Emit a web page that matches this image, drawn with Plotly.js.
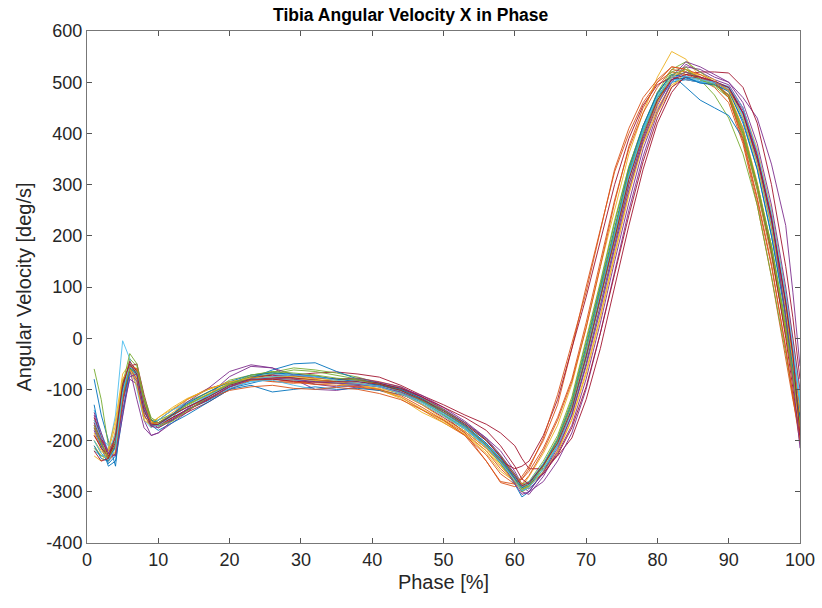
<!DOCTYPE html>
<html>
<head>
<meta charset="utf-8">
<script src="https://cdn.plot.ly/plotly-3.0.1.min.js"></script>
<style>html,body{margin:0;padding:0;background:#fff;}#chart{width:822px;height:608px;}</style>
</head>
<body>
<div id="chart"></div>
<script>
const phase = [1,2,3,4,5,6,7,8,9,10,12,14,17,20,23,26,29,32,35,38,41,44,47,50,53,56,58,60,61,62,64,66,68,70,72,74,76,78,80,82,84,86,88,90,92,94,96,98,99,100];

const trial01 = [-80,-150,-200,-250,-120,-60,-70,-140,-165,-170,-160,-140,-122,-98,-88,-78,-77,-82,-84,-90,-94,-107,-124,-150,-175,-210,-240,-275,-300,-285,-245,-200,-130,-20,95,215,325,405,465,500,505,500,495,485,420,330,200,50,-40,-130];
const trial02 = [-160,-190,-230,-210,-90,-50,-65,-130,-165,-170,-150,-120,-98,-88,-80,-84,-86,-90,-88,-96,-102,-115,-140,-165,-190,-240,-280,-285,-270,-250,-200,-130,-20,100,215,325,400,460,500,520,515,505,490,460,380,260,120,-40,-120,-190];
const trial03 = [-200,-220,-235,-180,-80,-55,-80,-150,-175,-165,-145,-125,-105,-90,-78,-75,-78,-80,-88,-92,-100,-118,-145,-165,-188,-225,-260,-280,-290,-270,-225,-170,-90,20,140,250,360,440,510,560,545,510,500,470,400,300,170,10,-80,-170];
const trial04 = [-150,-195,-220,-215,-140,-80,-90,-160,-190,-185,-165,-145,-112,-75,-55,-58,-80,-100,-102,-95,-90,-100,-115,-140,-165,-195,-220,-260,-285,-295,-265,-225,-170,-80,30,150,265,370,445,500,530,525,510,500,470,430,340,220,90,-55];
const trial05 = [-60,-120,-210,-230,-100,-40,-55,-120,-160,-170,-155,-125,-106,-82,-72,-66,-74,-73,-82,-80,-90,-96,-120,-140,-168,-200,-230,-265,-285,-280,-240,-190,-115,-5,110,230,335,415,475,520,530,505,475,430,360,260,120,-30,-110,-180];
const trial06 = [-140,-185,-220,-150,-5,-40,-100,-160,-175,-160,-140,-125,-110,-90,-75,-70,-72,-78,-80,-82,-88,-98,-118,-142,-170,-205,-235,-272,-295,-285,-250,-205,-140,-40,80,200,315,400,470,505,510,505,500,490,430,340,220,60,-30,-120];
const trial07 = [-170,-205,-235,-210,-110,-60,-60,-120,-165,-175,-160,-145,-125,-100,-82,-78,-72,-68,-66,-70,-76,-92,-112,-130,-150,-168,-185,-210,-235,-255,-255,-230,-195,-120,-20,100,220,330,420,480,515,520,520,518,490,420,300,140,40,-80];
const trial08 = [-130,-200,-245,-230,-120,-70,-65,-130,-170,-180,-165,-150,-125,-100,-92,-105,-100,-95,-100,-98,-102,-110,-125,-148,-175,-210,-245,-285,-310,-300,-260,-210,-140,-35,80,205,320,410,480,515,490,465,450,435,390,300,180,20,-70,-160];
const trial09 = [-190,-210,-225,-205,-90,-55,-75,-150,-170,-160,-140,-120,-100,-85,-80,-85,-88,-85,-80,-78,-85,-95,-115,-150,-185,-220,-255,-280,-275,-260,-215,-155,-80,30,150,270,370,440,490,525,520,505,500,475,400,290,160,10,-80,-170];
const trial10 = [-210,-230,-215,-160,-70,-50,-85,-160,-170,-155,-135,-118,-100,-88,-82,-80,-82,-85,-88,-92,-98,-108,-128,-152,-178,-212,-240,-268,-285,-290,-262,-222,-160,-70,40,160,280,380,450,495,510,505,500,490,450,370,250,90,0,-110];
const trial11 = [-180,-215,-240,-225,-130,-60,-120,-175,-190,-185,-160,-138,-112,-90,-75,-72,-78,-90,-95,-92,-90,-98,-112,-135,-162,-195,-228,-265,-290,-300,-280,-240,-185,-100,10,130,250,355,440,500,535,520,505,495,450,360,230,70,-30,-140];
const trial12 = [-200,-225,-240,-195,-95,-60,-70,-130,-160,-160,-148,-132,-110,-88,-75,-66,-58,-62,-68,-76,-88,-100,-118,-140,-165,-198,-230,-268,-292,-282,-245,-195,-120,-10,105,225,335,415,480,525,540,520,500,470,395,290,165,10,-80,-165];
const trial13 = [-220,-230,-225,-185,-85,-55,-75,-145,-165,-160,-140,-128,-112,-95,-85,-82,-92,-100,-96,-88,-92,-102,-122,-148,-175,-210,-242,-275,-295,-290,-255,-210,-145,-50,60,180,300,390,460,500,510,502,498,485,435,350,235,80,-20,-125];
const trial14 = [-155,-195,-230,-215,-120,-55,-50,-110,-160,-170,-155,-140,-120,-95,-80,-75,-78,-82,-85,-88,-95,-108,-130,-155,-182,-215,-240,-255,-250,-240,-190,-120,-20,80,190,300,390,455,495,510,505,500,495,475,410,300,170,0,-100,-195];
const trial15 = [-175,-210,-250,-240,-150,-60,-65,-125,-160,-165,-150,-135,-115,-92,-78,-62,-50,-48,-65,-80,-88,-100,-118,-145,-172,-208,-238,-275,-298,-290,-250,-200,-130,-25,90,210,320,405,470,505,508,500,497,490,440,345,215,50,-50,-150];
const trial16 = [-165,-200,-220,-195,-100,-60,-80,-145,-165,-165,-150,-135,-118,-102,-95,-92,-98,-100,-96,-100,-108,-120,-140,-160,-185,-240,-282,-290,-285,-268,-220,-160,-85,20,140,265,375,450,500,530,525,510,500,470,385,270,140,-20,-110,-200];
const trial17 = [-185,-215,-240,-220,-110,-50,-60,-125,-165,-168,-150,-130,-108,-90,-80,-78,-80,-82,-85,-90,-100,-115,-138,-162,-188,-220,-250,-280,-295,-285,-250,-205,-135,-30,80,195,300,380,440,490,520,515,505,480,410,305,180,20,-70,-185];
const trial18 = [-165,-200,-225,-200,-105,-65,-85,-150,-172,-170,-150,-125,-98,-65,-52,-58,-72,-75,-80,-78,-86,-95,-115,-138,-165,-198,-232,-275,-300,-305,-270,-220,-150,-50,65,185,300,390,460,510,540,530,515,500,460,380,260,100,0,-100];
const trial19 = [-215,-230,-235,-200,-90,-30,-50,-115,-155,-165,-150,-130,-110,-90,-78,-70,-62,-65,-72,-80,-90,-105,-125,-150,-178,-212,-245,-280,-300,-292,-255,-208,-140,-40,75,195,310,400,465,510,520,505,492,470,400,300,180,30,-60,-160];
const trial20 = [-160,-195,-210,-200,-110,-55,-70,-140,-168,-172,-158,-140,-118,-98,-84,-80,-82,-85,-88,-90,-95,-105,-125,-148,-172,-205,-236,-270,-288,-280,-245,-200,-128,-20,95,215,325,410,475,505,505,500,498,488,435,345,225,70,-30,-135];
const trial21 = [-190,-215,-230,-205,-100,-45,-65,-135,-168,-170,-155,-140,-120,-95,-78,-72,-74,-78,-80,-82,-88,-98,-115,-135,-155,-180,-210,-250,-275,-285,-265,-228,-175,-95,10,125,240,345,430,490,510,508,500,485,440,350,230,70,-40,-150];
const trial22 = [-210,-235,-240,-210,-100,-58,-70,-140,-170,-168,-148,-128,-105,-85,-72,-68,-70,-75,-80,-85,-92,-102,-122,-145,-170,-205,-235,-272,-292,-285,-248,-198,-125,-15,100,220,330,415,478,515,510,498,495,482,425,330,200,40,-55,-155];
const trial23 = [-175,-205,-235,-225,-120,-55,-60,-130,-165,-170,-158,-142,-118,-95,-82,-80,-85,-90,-92,-95,-100,-112,-135,-160,-190,-228,-265,-285,-275,-255,-195,-110,-10,90,210,330,410,470,505,530,525,515,500,470,390,275,145,-20,-115,-205];
const trial24 = [-230,-240,-220,-170,-80,-60,-95,-155,-165,-155,-138,-120,-100,-85,-78,-75,-75,-78,-82,-88,-95,-108,-130,-158,-182,-215,-248,-282,-296,-290,-260,-220,-158,-65,45,165,285,385,460,510,525,510,500,485,430,340,215,55,-40,-145];
const trial25 = [-145,-185,-225,-230,-150,-75,-70,-130,-172,-175,-158,-140,-118,-95,-80,-78,-80,-85,-88,-90,-95,-105,-122,-145,-172,-208,-240,-282,-305,-300,-262,-215,-150,-55,55,175,290,385,455,505,520,510,500,490,445,360,240,40,-80,-215];
const trial26 = [-170,-205,-232,-210,-110,-60,-65,-120,-160,-172,-162,-142,-115,-90,-72,-65,-68,-72,-78,-82,-90,-102,-122,-145,-172,-208,-238,-275,-295,-288,-250,-200,-128,-20,95,215,325,405,470,515,525,505,495,475,405,300,175,20,-70,-170];
const trial27 = [-200,-225,-238,-215,-105,-50,-68,-138,-170,-170,-152,-135,-112,-92,-80,-75,-72,-75,-82,-88,-95,-108,-128,-152,-178,-212,-242,-278,-298,-292,-256,-208,-138,-32,85,205,318,405,472,510,512,505,500,492,450,365,245,85,-15,-120];
const trial28 = [-220,-240,-235,-190,-90,-50,-70,-140,-170,-168,-150,-135,-115,-92,-80,-80,-84,-86,-85,-85,-90,-102,-120,-142,-168,-200,-232,-268,-288,-282,-248,-205,-138,-35,80,200,310,395,465,505,515,510,502,490,440,355,235,70,-30,-190];

const trials = [trial01,trial02,trial03,trial04,trial05,trial06,trial07,trial08,trial09,trial10,trial11,trial12,trial13,trial14,trial15,trial16,trial17,trial18,trial19,trial20,trial21,trial22,trial23,trial24,trial25,trial26,trial27,trial28];
const colorOrder = ['#0072BD','#D95319','#EDB120','#7E2F8E','#77AC30','#4DBEEE','#A2142F'];

const xTickVals = [0,10,20,30,40,50,60,70,80,90,100];
const xTickText = ['0','10','20','30','40','50','60','70','80','90','100'];
const yTickVals = [-400,-300,-200,-100,0,100,200,300,400,500,600];
const yTickText = ['-400','-300','-200','-100','0','100','200','300','400','500','600'];

const titleText = 'Tibia Angular Velocity X in Phase';
const xTitle = 'Phase [%]';
const yTitle = 'Angular Velocity [deg/s]';

const traces = trials.map((y, i) => ({
  x: phase, y: y, type: 'scatter', mode: 'lines',
  line: {color: colorOrder[i % colorOrder.length], width: 1},
  opacity: 0.9, hoverinfo: 'skip', showlegend: false
}));

const fontFam = 'Liberation Sans, Arial, sans-serif';
const axisCommon = {
  showgrid: false, zeroline: false, showline: true, mirror: 'ticks',
  linecolor: '#777777', linewidth: 1, ticks: 'inside', ticklen: 5, tickwidth: 1, tickcolor: '#555555',
  tickfont: {family: fontFam, size: 18, color: '#262626'},
  tickmode: 'array', fixedrange: true
};

const layout = {
  width: 822, height: 608,
  margin: {l: 87, r: 22, t: 31, b: 65},
  paper_bgcolor: '#ffffff', plot_bgcolor: '#ffffff',
  title: {text: '<b>' + titleText + '</b>', x: 0.454, xref: 'paper', xanchor: 'center', y: 0.976, yref: 'container', yanchor: 'middle',
    font: {family: fontFam, size: 17.5, color: '#000000'}},
  xaxis: Object.assign({}, axisCommon, {range: [0, 100], tickvals: xTickVals, ticktext: xTickText,
    title: {text: xTitle, standoff: 6, font: {family: fontFam, size: 20, color: '#262626'}}}),
  yaxis: Object.assign({}, axisCommon, {range: [-400, 600], tickvals: yTickVals, ticktext: yTickText,
    title: {text: yTitle, standoff: 9, font: {family: fontFam, size: 20, color: '#262626'}}})
};

Plotly.newPlot('chart', traces, layout, {staticPlot: true, displayModeBar: false});
</script>
</body>
</html>
